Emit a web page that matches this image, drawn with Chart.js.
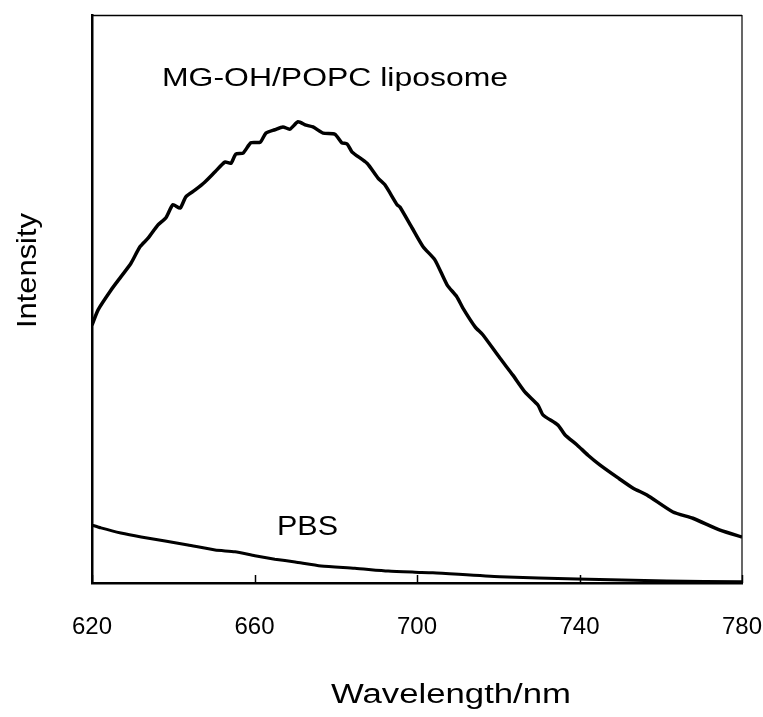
<!DOCTYPE html>
<html>
<head>
<meta charset="utf-8">
<script src="https://cdn.jsdelivr.net/npm/chart.js@4.4.0/dist/chart.umd.min.js"></script>
<style>
  html, body { margin: 0; padding: 0; background: #fff; }
</style>
</head>
<body>
<canvas id="c" width="763" height="717"></canvas>
<script>
// MG-OH/POPC liposome emission (arbitrary intensity units, 0-100)
const wlMain = [620.0, 621.5, 624.7, 627.1, 629.6, 631.8, 633.8, 636.2, 638.2, 639.9, 641.7, 643.1, 645.4, 647.8,
  650.3, 652.7, 654.2, 655.4, 657.2, 659.1, 661.4, 662.8, 665.0, 667.0, 668.7, 670.7, 672.7, 674.4, 676.9, 679.8,
  681.5, 682.8, 684.0, 687.7, 690.4, 692.1, 695.1, 695.8, 698.8, 701.5, 704.4, 707.4, 709.8, 711.3, 714.3, 716.2,
  720.4, 723.6, 726.6, 729.8, 731.0, 734.7, 736.4, 739.4, 742.1, 745.0, 749.5, 753.2, 756.6, 763.0, 767.9, 774.6, 780.0];
const intMain = [45.4, 48.1, 51.6, 53.9, 56.3, 59.2, 60.7, 63.0, 64.3, 66.6, 66.0, 68.0, 69.2, 70.6,
  72.4, 74.1, 73.9, 75.5, 75.7, 77.5, 77.6, 79.2, 79.8, 80.3, 79.9, 81.2, 80.6, 80.3, 79.2, 79.0,
  77.5, 77.3, 75.9, 73.9, 71.3, 70.1, 66.6, 66.2, 62.5, 59.2, 56.9, 52.5, 50.4, 48.4, 45.1, 43.7,
  39.6, 36.6, 33.6, 31.3, 29.6, 27.8, 26.1, 24.3, 22.5, 20.8, 18.5, 16.7, 15.5, 12.5, 11.4, 9.3, 8.1];

// PBS background
const wlPbs = [620.0, 622.2, 627.1, 632.1, 638.0, 643.6, 650.3, 655.2, 660.1, 665.0, 670.0, 676.4, 684.7,
  692.9, 699.5, 703.9, 720.4, 739.4, 761.5, 780.0];
const intPbs = [10.2, 9.7, 8.8, 8.1, 7.4, 6.7, 5.8, 5.5, 4.8, 4.2, 3.7, 3.0, 2.6,
  2.1, 1.9, 1.8, 1.1, 0.7, 0.35, 0.2];

const xTicks = [620, 660, 700, 740, 780];

const FONT = '"Liberation Sans", Arial, Helvetica, sans-serif';

// draws text squeezed/stretched to a given width
function fitText(ctx, text, x, y, size, width, rot){
  ctx.save();
  ctx.font = size + 'px ' + FONT;
  const w = ctx.measureText(text).width;
  ctx.translate(x, y);
  if (rot) ctx.rotate(rot);
  ctx.scale(width / w, 1);
  ctx.fillStyle = '#000';
  ctx.textBaseline = 'alphabetic';
  ctx.textAlign = 'left';
  ctx.fillText(text, 0, 0);
  ctx.restore();
}

const decor = {
  id: 'decor',
  afterDraw(chart){
    const {ctx, chartArea: a, scales: {x}} = chart;
    ctx.save();
    ctx.strokeStyle = '#000';
    // thin top and right frame
    ctx.lineWidth = 1.5;
    ctx.beginPath(); ctx.moveTo(a.left, a.top + 0.5); ctx.lineTo(a.right, a.top + 0.5); ctx.stroke();
    ctx.lineWidth = 1.2;
    ctx.beginPath(); ctx.moveTo(a.right, a.top); ctx.lineTo(a.right, a.bottom); ctx.stroke();
    // inward tick marks
    ctx.lineWidth = 1.5;
    xTicks.forEach(t => {
      const px = Math.round(x.getPixelForValue(t)) + 0.5;
      ctx.beginPath(); ctx.moveTo(px, a.bottom); ctx.lineTo(px, a.bottom - 8); ctx.stroke();
    });
    ctx.restore();

    fitText(ctx, 'MG-OH/POPC liposome', 162, 86, 26.5, 346);
    fitText(ctx, 'PBS', 277, 535, 28, 61);
    fitText(ctx, 'Wavelength/nm', 331, 703, 27, 240);
    fitText(ctx, 'Intensity', 36, 328, 28, 115, -Math.PI / 2);
  }
};

new Chart(document.getElementById('c'), {
  type: 'line',
  data: {
    datasets: [
      { label: 'MG-OH/POPC liposome', data: wlMain.map((w, i) => ({x: w, y: intMain[i]})),
        borderColor: '#000', borderWidth: 3.5, pointRadius: 0, tension: 0.2, fill: false },
      { label: 'PBS', data: wlPbs.map((w, i) => ({x: w, y: intPbs[i]})),
        borderColor: '#000', borderWidth: 3, pointRadius: 0, tension: 0.2, fill: false }
    ]
  },
  options: {
    responsive: false,
    animation: false,
    devicePixelRatio: 1,
    layout: { padding: { top: 15, right: 21, left: 0, bottom: 0 } },
    plugins: { legend: { display: false }, tooltip: { enabled: false } },
    scales: {
      x: {
        type: 'linear', min: 620, max: 780,
        afterBuildTicks: s => { s.ticks = xTicks.map(v => ({value: v})); },
        afterFit: s => { s.height = 134; s.paddingLeft = 0; s.paddingRight = 0; },
        grid: { drawOnChartArea: false, drawTicks: false },
        border: { color: '#000', width: 2.5 },
        ticks: { color: '#000', font: { family: FONT, size: 24 }, padding: 30, labelOffset: 0, maxRotation: 0 }
      },
      y: {
        min: 0, max: 100,
        afterFit: s => { s.width = 92; },
        grid: { drawOnChartArea: false, drawTicks: false },
        border: { color: '#000', width: 2.5 },
        ticks: { display: false }
      }
    }
  },
  plugins: [decor]
});
</script>
</body>
</html>
